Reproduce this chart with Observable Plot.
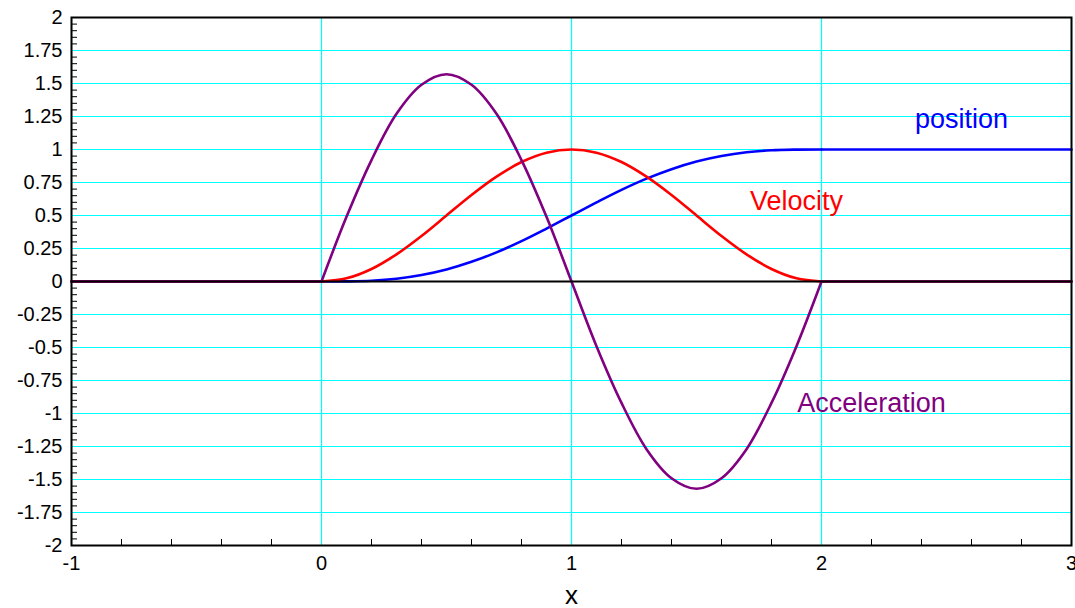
<!DOCTYPE html>
<html>
<head>
<meta charset="utf-8">
<script src="https://cdn.jsdelivr.net/npm/d3@7"></script>
<script src="https://cdn.jsdelivr.net/npm/@observablehq/plot@0.6"></script>
<style>
  html, body { margin: 0; padding: 0; background: #fff; }
  #chart svg { display: block; overflow: visible; }
</style>
</head>
<body>
<div id="chart"></div>
<script>
// Time samples while the body is moving (0 ≤ x ≤ 2)
const tMotion = [0, 0.1, 0.2, 0.3, 0.4, 0.5, 0.6, 0.7, 0.8, 0.9, 1,
                 1.1, 1.2, 1.3, 1.4, 1.5, 1.6, 1.7, 1.8, 1.9, 2];
const positionMotion = [0, 0.001, 0.006, 0.021, 0.049, 0.091, 0.149, 0.221, 0.306, 0.401, 0.5,
                        0.599, 0.694, 0.779, 0.851, 0.909, 0.951, 0.979, 0.994, 0.999, 1];
const velocityMotion = [0, 0.024, 0.095, 0.206, 0.345, 0.5, 0.655, 0.794, 0.905, 0.976, 1,
                        0.976, 0.905, 0.794, 0.655, 0.5, 0.345, 0.206, 0.095, 0.024, 0];
const accelerationMotion = [0, 0.49, 0.92, 1.27, 1.49, 1.57, 1.49, 1.27, 0.92, 0.49, 0,
                            -0.49, -0.92, -1.27, -1.49, -1.57, -1.49, -1.27, -0.92, -0.49, 0];

// At rest before and after the motion
const tBefore = [-1, 0];
const tAfter = [2, 3];
const positionBefore = [0, 0], positionAfter = [1, 1];
const velocityBefore = [0, 0], velocityAfter = [0, 0];
const accelerationBefore = [0, 0], accelerationAfter = [0, 0];

// Axis ticks
const xTicks = [-1, 0, 1, 2, 3];
const xMinorTicks = [-0.8, -0.6, -0.4, -0.2, 0.2, 0.4, 0.6, 0.8, 1.2, 1.4, 1.6, 1.8, 2.2, 2.4, 2.6, 2.8];
const yTicks = [-2, -1.75, -1.5, -1.25, -1, -0.75, -0.5, -0.25, 0, 0.25, 0.5, 0.75, 1, 1.25, 1.5, 1.75, 2];
const yMinorTicks = d3.range(-40, 41).filter(i => i % 5 !== 0).map(i => i / 20);

// Series names and colours
const seriesNames = ["position", "Velocity", "Acceleration"];
const seriesColors = ["#0000ff", "#ff0000", "#800080"];

function pieces(name, before, motion, after) {
  const rows = [];
  tBefore.forEach((t, i) => rows.push({series: name, piece: "before", t, v: before[i]}));
  tMotion.forEach((t, i) => rows.push({series: name, piece: "motion", t, v: motion[i]}));
  tAfter.forEach((t, i) => rows.push({series: name, piece: "after", t, v: after[i]}));
  return rows;
}

const curves = [
  pieces("position", positionBefore, positionMotion, positionAfter),
  pieces("Velocity", velocityBefore, velocityMotion, velocityAfter),
  pieces("Acceleration", accelerationBefore, accelerationMotion, accelerationAfter)
];

const font = "'Liberation Sans', Arial, Helvetica, sans-serif";

const chart = Plot.plot({
  width: 1075,
  height: 608,
  marginLeft: 71,
  marginRight: 4,
  marginTop: 17,
  marginBottom: 63,
  style: {fontFamily: font, background: "#fff", color: "#000"},
  x: {domain: [-1, 3]},
  y: {domain: [-2, 2]},
  marks: [
    Plot.gridY(yTicks, {stroke: "#00ffff", strokeOpacity: 1, strokeWidth: 1.2}),
    Plot.gridX(xTicks, {stroke: "#00ffff", strokeOpacity: 1, strokeWidth: 1.2}),
    ...curves.map((rows, i) => Plot.line(rows, {
      x: "t", y: "v", z: "piece",
      stroke: seriesColors[i], strokeWidth: 2.6,
      curve: "catmull-rom"
    })),
    Plot.ruleY([0], {stroke: "#000", strokeWidth: 2}),
    Plot.frame({stroke: "#000", strokeWidth: 2}),
    // minor tick marks pointing into the plot
    Plot.axisY(yMinorTicks, {anchor: "left", tickSize: 6, dx: 6, tickFormat: () => "", label: null, stroke: "#000", strokeWidth: 1}),
    Plot.axisX(xMinorTicks, {anchor: "bottom", tickSize: 6, dy: -6, tickFormat: () => "", label: null, stroke: "#000", strokeWidth: 1}),
    // tick labels
    Plot.axisY(yTicks, {anchor: "left", tickSize: 0, tickPadding: 9, tickFormat: d => String(d), label: null, fontSize: 20, fill: "#000"}),
    Plot.axisX(xTicks, {anchor: "bottom", tickSize: 0, tickPadding: 10, tickFormat: d => String(d), label: null, fontSize: 20, fill: "#000"}),
    Plot.text(["x"], {frameAnchor: "bottom", dy: 58, fontSize: 26, fill: "#000"}),
    // series labels
    Plot.text(["position"], {x: 2.56, y: 1.23, fill: seriesColors[0], fontSize: 27}),
    Plot.text(["Velocity"], {x: 1.9, y: 0.61, fill: seriesColors[1], fontSize: 27}),
    Plot.text(["Acceleration"], {x: 2.2, y: -0.92, fill: seriesColors[2], fontSize: 27})
  ]
});

document.getElementById("chart").appendChild(chart);
</script>
</body>
</html>
